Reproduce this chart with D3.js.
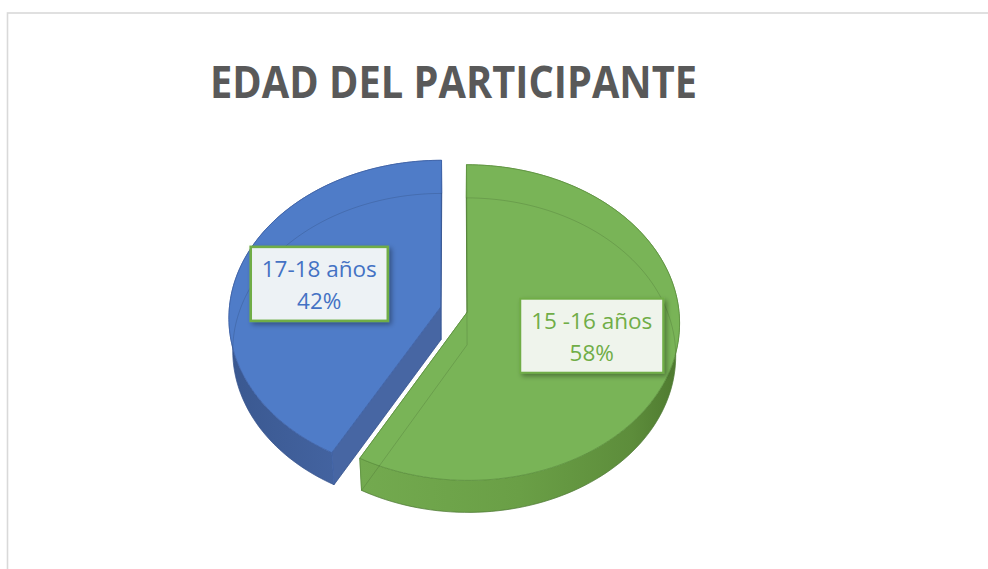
<!DOCTYPE html>
<html><head><meta charset="utf-8">
<script src="https://cdn.jsdelivr.net/npm/d3@7"></script>
<style>html,body{margin:0;padding:0;background:#fff;} svg{display:block;}</style>
</head><body>
<svg id="chart" width="988" height="569"></svg>
<script>
const title = "EDAD DEL PARTICIPANTE";
const categories = ["15 -16 años", "17-18 años"];
const values = [58, 42];

const W = 988, H = 569;
const svg = d3.select("#chart");
const defs = svg.append("defs");

// frame
svg.append("rect").attr("x", 7.5).attr("y", 13).attr("width", W + 20).attr("height", H + 20)
  .attr("fill", "#fff").attr("stroke", "#d9d9d9").attr("stroke-width", 1.6);

// title
svg.append("text").attr("x", 210).attr("y", 98)
  .attr("textLength", 487).attr("lengthAdjust", "spacingAndGlyphs")
  .style("font-family", "'Open Sans', sans-serif").style("font-weight", 700)
  .style("font-size", "45px").attr("fill", "#595959").text(title);

// perspective projection of the pie disk
const cam = {cx: 454, cy: 309.5, f: 2129.6, D: 10.07, phi: Math.asin(0.7413)};
const S = Math.sin(cam.phi), C = Math.cos(cam.phi);
const thick = 0.235, explode = 0.065;
function proj(u, v, w) {
  const z = cam.D + v * C - w * S;
  return [cam.cx + cam.f * u / z, cam.cy - cam.f * (v * S + w * C) / z];
}

const data = categories.map((c, i) => ({name: c, value: values[i]}));
const pie = d3.pie().sort(null).value(d => d.value);
const arcs = pie(data);
const total = d3.sum(values);

const topColor = d3.scaleOrdinal().domain(categories).range(["#79b457", "#4f7cc8"]);
const faceColor = d3.scaleOrdinal().domain(categories).range(["#6a9f46", "#4766a3"]);
const edgeColor = d3.scaleOrdinal().domain(categories).range(["#5e9240", "#3f62a6"]);
const textColor = d3.scaleOrdinal().domain(categories).range(["#70ad47", "#4472c4"]);
const wallStops = {
  "15 -16 años": [["0", "#73aa4f"], ["0.5", "#6a9f46"], ["0.85", "#5d8d3b"], ["1", "#4e792f"]],
  "17-18 años": [["0", "#3a5890"], ["0.5", "#4363a0"], ["1", "#4a6aa8"]]
};

arcs.forEach((a, i) => {
  a.mid = (a.startAngle + a.endAngle) / 2;
  a.ou = explode * Math.sin(a.mid);
  a.ov = explode * Math.cos(a.mid);
  a.key = "s" + i;
});
const pt = (a, r, ang, w) => proj(a.ou + r * Math.sin(ang), a.ov + r * Math.cos(ang), w);
const rim = (a, w, rev) => {
  const n = 120;
  const ps = d3.range(n + 1).map(k => pt(a, 1, a.startAngle + (a.endAngle - a.startAngle) * k / n, w));
  return rev ? ps.reverse() : ps;
};
const line = d3.line();

const order = arcs.slice().sort((p, q) => q.ov - p.ov); // back first
const gWalls = svg.append("g"), gTops = svg.append("g"), gGhost = svg.append("g"), gLab = svg.append("g");

order.forEach(a => {
  const name = a.data.name;
  const rs = rim(a, 0);
  const xs = rs.map(p => p[0]);
  const gid = "wall" + a.key;
  const lg = defs.append("linearGradient").attr("id", gid).attr("gradientUnits", "userSpaceOnUse")
    .attr("x1", d3.min(xs)).attr("x2", d3.max(xs)).attr("y1", 0).attr("y2", 0);
  wallStops[name].forEach(s => lg.append("stop").attr("offset", s[0]).attr("stop-color", s[1]));

  [a.startAngle, a.endAngle].forEach(ang => {
    const poly = [pt(a, 0, ang, 0), pt(a, 1, ang, 0), pt(a, 1, ang, -thick), pt(a, 0, ang, -thick)];
    gWalls.append("path").attr("d", line(poly) + "Z").attr("fill", faceColor(name))
      .attr("stroke", edgeColor(name)).attr("stroke-width", 0.8).attr("stroke-linejoin", "round");
  });
  const wall = rim(a, 0).concat(rim(a, -thick, true));
  gWalls.append("path").attr("d", line(wall) + "Z").attr("fill", `url(#${gid})`)
    .attr("stroke", edgeColor(name)).attr("stroke-width", 0.7).attr("stroke-linejoin", "round");
});

order.forEach(a => {
  const name = a.data.name;
  const top = [pt(a, 0, a.startAngle, 0)].concat(rim(a, 0));
  gTops.append("path").attr("d", line(top) + "Z").attr("fill", topColor(name))
    .attr("stroke", edgeColor(name)).attr("stroke-width", 0.8).attr("stroke-linejoin", "round");
  const bot = [pt(a, 0, a.startAngle, -thick)].concat(rim(a, -thick));
  gGhost.append("path").attr("d", line(bot) + "Z").attr("fill", "none")
    .attr("stroke", "#000").attr("stroke-opacity", 0.12).attr("stroke-width", 1);
});

const flt = defs.append("filter").attr("id", "shadow").attr("x", "-20%").attr("y", "-20%").attr("width", "150%").attr("height", "150%");
flt.append("feDropShadow").attr("dx", 2.5).attr("dy", 2.5).attr("stdDeviation", 2.5)
  .attr("flood-color", "#000").attr("flood-opacity", 0.35);

arcs.forEach(a => {
  const name = a.data.name;
  const [lx, ly] = pt(a, 0.6, a.mid, 0);
  const g = gLab.append("g");
  const rect = g.append("rect").attr("fill", name === categories[0] ? "#eff4ec" : "#edf2f5")
    .attr("stroke", "#70ad47").attr("stroke-width", name === categories[0] ? 2 : 2.6)
    .attr("filter", "url(#shadow)");
  const t1 = g.append("text").attr("x", lx).attr("y", ly - 7).attr("text-anchor", "middle")
    .style("font-family", "'Open Sans', sans-serif").style("font-size", "22.5px")
    .attr("fill", textColor(name)).text(name);
  const t2 = g.append("text").attr("x", lx).attr("y", ly + 25).attr("text-anchor", "middle")
    .style("font-family", "'Open Sans', sans-serif").style("font-size", "22.5px")
    .attr("fill", textColor(name)).text(Math.round(a.data.value / total * 100) + "%");
  const wTxt = Math.max(t1.node().getComputedTextLength(), t2.node().getComputedTextLength());
  const bw = wTxt + 22, bh = 74;
  rect.attr("x", lx - bw / 2).attr("y", ly - bh / 2).attr("width", bw).attr("height", bh);
});
</script>
</body></html>
